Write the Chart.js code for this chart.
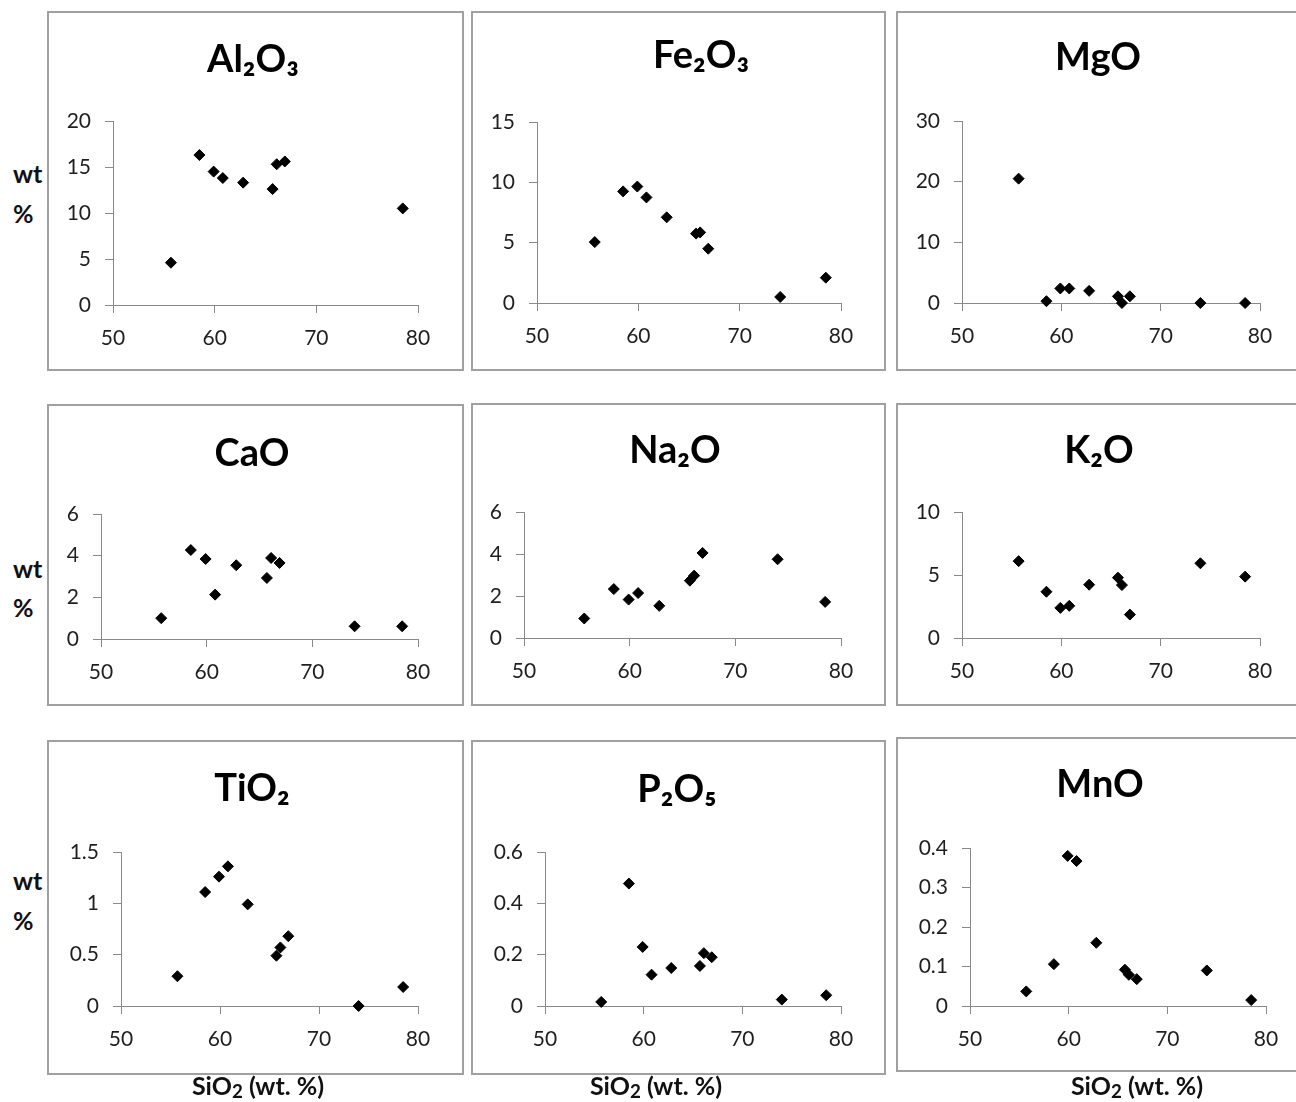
<!DOCTYPE html>
<html>
<head>
<meta charset="utf-8">
<script src="https://cdn.jsdelivr.net/npm/chart.js@4/dist/chart.umd.min.js"></script>
<style>
    body { margin: 0; width: 1296px; height: 1102px; overflow: hidden; background: #fff; position: relative; font-family: Lato, sans-serif; }
    .panel { position: absolute; box-sizing: border-box; border: 2px solid #a0a0a0; background: #fff; }
    .panel canvas { display: block; }
    .lbl { position: absolute; font-weight: bold; color: #111; line-height: 1; white-space: nowrap; }
    .lbl.wt { font-size: 25px; left: 13px; }
    .lbl.si { font-size: 25px; width: 200px; text-align: center; }
    .lbl.si span { font-size: 0.75em; position: relative; top: 0.18em; }
</style>
</head>
<body>

<div class="lbl wt" style="top:161px">wt</div>
<div class="lbl wt" style="top:201px">%</div>
<div class="lbl wt" style="top:556px">wt</div>
<div class="lbl wt" style="top:595px">%</div>
<div class="lbl wt" style="top:868px">wt</div>
<div class="lbl wt" style="top:908px">%</div>

<div class="lbl si" style="left:158px;top:1073px">SiO<span>2</span> (wt. %)</div>
<div class="lbl si" style="left:556px;top:1073px">SiO<span>2</span> (wt. %)</div>
<div class="lbl si" style="left:1037px;top:1073px">SiO<span>2</span> (wt. %)</div>

<script>
// ==================================================
// DATA (SiO2 wt.% of each sample, oxide wt.% per panel)
// ==================================================
const sio2  = [55.7, 58.5, 59.9, 60.8, 62.8, 65.7, 66.1, 66.9, 74.0, 78.5];
const al2o3 = [4.6, 16.3, 14.5, 13.8, 13.3, 12.6, 15.3, 15.6, null, 10.5];
const fe2o3 = [5.05, 9.25, 9.65, 8.75, 7.1, 5.75, 5.85, 4.5, 0.5, 2.1];
const mgo   = [20.5, 0.3, 2.4, 2.4, 2.0, 1.1, 0, 1.1, 0, 0];
const cao   = [1.0, 4.27, 3.84, 2.13, 3.54, 2.93, 3.89, 3.65, 0.61, 0.61];
const na2o  = [0.93, 2.33, 1.83, 2.14, 1.53, 2.73, 2.97, 4.05, 3.75, 1.72];
const k2o   = [6.1, 3.67, 2.39, 2.55, 4.23, 4.79, 4.2, 1.86, 5.93, 4.87];
const tio2  = [0.29, 1.11, 1.26, 1.36, 0.99, 0.49, 0.57, 0.68, 0, 0.185];
const p2o5  = [0.016, 0.477, 0.23, 0.122, 0.148, 0.156, 0.206, 0.19, 0.025, 0.042];
const mno   = [0.037, 0.106, 0.38, 0.367, 0.16, 0.092, 0.079, 0.068, 0.09, 0.015];

const xTicks     = [50, 60, 70, 80];
const al2o3Ticks = [0, 5, 10, 15, 20];
const fe2o3Ticks = [0, 5, 10, 15];
const mgoTicks   = [0, 10, 20, 30];
const caoTicks   = [0, 2, 4, 6];
const na2oTicks  = [0, 2, 4, 6];
const k2oTicks   = [0, 5, 10];
const tio2Ticks  = [0, 0.5, 1, 1.5];
const p2o5Ticks  = [0, 0.2, 0.4, 0.6];
const mnoTicks   = [0, 0.1, 0.2, 0.3, 0.4];

// ==================================================
// LAYOUT (box, plot area and title position in page px)
// ==================================================
const panels = [
    { title: 'Al₂O₃', values: al2o3, ticks: al2o3Ticks, box: [47, 11, 464, 371],   plot: [113, 418, 305, 121],  titleAt: [253, 60] },
    { title: 'Fe₂O₃', values: fe2o3, ticks: fe2o3Ticks, box: [471, 11, 886, 371],  plot: [537, 841, 303, 122],  titleAt: [701, 56] },
    { title: 'MgO',   values: mgo,   ticks: mgoTicks,   box: [896, 11, 1306, 371], plot: [962, 1260, 303, 121], titleAt: [1098, 58] },
    { title: 'CaO',   values: cao,   ticks: caoTicks,   box: [47, 404, 464, 706],  plot: [101, 418, 639, 514],  titleAt: [252, 454] },
    { title: 'Na₂O',  values: na2o,  ticks: na2oTicks,  box: [471, 403, 886, 706], plot: [524, 841, 638, 512],  titleAt: [675, 451] },
    { title: 'K₂O',   values: k2o,   ticks: k2oTicks,   box: [896, 403, 1306, 706], plot: [962, 1260, 638, 512], titleAt: [1099, 451] },
    { title: 'TiO₂',  values: tio2,  ticks: tio2Ticks,  box: [47, 740, 464, 1075], plot: [121, 418, 1006, 852], titleAt: [252, 789] },
    { title: 'P₂O₅',  values: p2o5,  ticks: p2o5Ticks,  box: [471, 740, 886, 1075], plot: [545, 841, 1006, 852], titleAt: [677, 790] },
    { title: 'MnO',   values: mno,   ticks: mnoTicks,   box: [896, 737, 1306, 1072], plot: [970, 1266, 1006, 848], titleAt: [1100, 785] }
];

const TITLE_SIZE = 38;
const AXIS_COLOR = '#898989';
const TICK_COLOR = '#1f1f1f';
const tickFont = { family: 'Lato', size: 21 };

Chart.defaults.font.family = 'Lato';

function makePanel(p) {
    const [bl, bt, br, bb] = p.box;
    const div = document.createElement('div');
    div.className = 'panel';
    div.style.left = bl + 'px';
    div.style.top = bt + 'px';
    div.style.width = (br - bl) + 'px';
    div.style.height = (bb - bt) + 'px';

    const W = br - bl - 4, H = bb - bt - 4;
    const ox = bl + 2, oy = bt + 2;
    const canvas = document.createElement('canvas');
    canvas.width = W;
    canvas.height = H;
    canvas.style.width = W + 'px';
    canvas.style.height = H + 'px';
    div.appendChild(canvas);
    document.body.insertBefore(div, document.body.firstChild);

    // plot area + title centre relative to the canvas
    const pl = p.plot[0] - ox, pr = p.plot[1] - ox;
    const pb = p.plot[2] - oy, pt = p.plot[3] - oy;
    const cx = p.titleAt[0] - ox, cy = p.titleAt[1] - oy;
    // title is centred on the padded width, so the right padding moves it
    // (negative when the title sits right of the middle)
    const padR = W - 2 * cx;
    const lh = TITLE_SIZE * 1.2;
    const padT = cy - lh / 2;
    const padB = pt - padT - lh;

    const axisGrid = { drawOnChartArea: false, drawTicks: true, tickLength: 8, color: AXIS_COLOR };

    new Chart(canvas, {
        type: 'scatter',
        data: {
            datasets: [{
                data: sio2.map((x, i) => ({ x: x, y: p.values[i] })),
                yAxisID: 'y',
                pointStyle: 'rectRot',
                pointRadius: 5.5,
                pointHoverRadius: 5.5,
                backgroundColor: '#000',
                borderColor: '#000',
                borderWidth: 1,
                clip: false
            }]
        },
        options: {
            responsive: false,
            animation: false,
            devicePixelRatio: 1,
            layout: { padding: { left: 0, right: padR, top: 0, bottom: 0 } },
            plugins: {
                legend: { display: false },
                tooltip: { enabled: false },
                title: {
                    display: true,
                    text: p.title,
                    color: '#000',
                    font: { family: 'Lato', size: TITLE_SIZE, weight: 'bold', lineHeight: 1.2 },
                    padding: { top: padT, bottom: padB }
                }
            },
            scales: {
                x: {
                    type: 'linear',
                    min: xTicks[0],
                    max: xTicks[xTicks.length - 1],
                    afterBuildTicks: s => { s.ticks = xTicks.map(v => ({ value: v })); },
                    afterFit: s => { s.height = H - pb; },
                    ticks: { font: tickFont, color: TICK_COLOR, padding: 13, maxRotation: 0, autoSkip: false, callback: v => String(v) },
                    grid: axisGrid,
                    border: { display: true, color: AXIS_COLOR, width: 1 }
                },
                y: {
                    type: 'linear',
                    position: 'left',
                    min: p.ticks[0],
                    max: p.ticks[p.ticks.length - 1],
                    afterBuildTicks: s => { s.ticks = p.ticks.map(v => ({ value: v })); },
                    afterFit: s => { s.width = pl; },
                    ticks: { font: tickFont, color: TICK_COLOR, padding: 14, autoSkip: false, callback: v => String(v) },
                    grid: axisGrid,
                    border: { display: true, color: AXIS_COLOR, width: 1 }
                },
                yr: {
                    type: 'linear',
                    position: 'right',
                    ticks: { display: false },
                    grid: { display: false },
                    border: { display: false },
                    afterFit: s => { s.width = W - padR - pr; }
                }
            }
        }
    });
}

panels.forEach(makePanel);
</script>
</body>
</html>
